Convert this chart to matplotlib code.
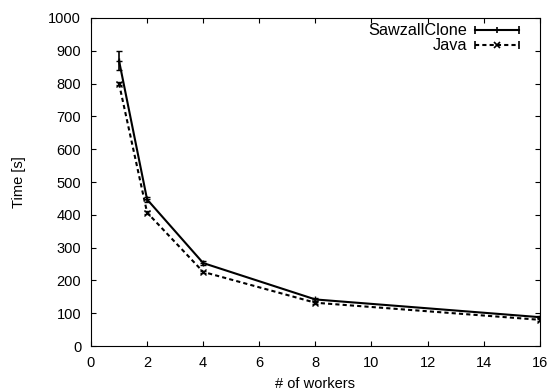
import numpy as np
import matplotlib
matplotlib.use("Agg")
import matplotlib.pyplot as plt
from matplotlib.lines import Line2D
from matplotlib.legend_handler import HandlerLine2D, HandlerTuple

plt.rcParams['font.family'] = ['Liberation Sans', 'DejaVu Sans']
plt.rcParams['font.size'] = 10.5

# data
workers = [1, 2, 4, 8, 16]
sawzall = [870, 447, 253, 142, 88]
sawzall_err = [30, 8, 5, 4, 4]
java = [800, 407, 226, 132, 80]
java_err = [5, 5, 4, 3, 3]

fig = plt.figure(figsize=(5.48, 3.91), dpi=100)
ax = fig.add_axes([0.166, 0.115, 0.819, 0.839])

dash = (0, (2, 1.5))
ax.errorbar(workers, sawzall, yerr=sawzall_err, color='black', lw=1.5,
            marker='+', ms=4, capsize=2.5, elinewidth=1.2)
ax.errorbar(workers, java, yerr=java_err, color='black', lw=1.5, ls=dash,
            marker='x', ms=4, capsize=2.5, elinewidth=1.2)

ax.set_xlim(0, 16)
ax.set_ylim(0, 1000)
ax.set_xticks(np.arange(0, 17, 2))
ax.set_yticks(np.arange(0, 1001, 100))
ax.tick_params(direction='in', top=True, right=True, length=3.5, pad=7)
ax.set_xlabel('# of workers', labelpad=5)
ax.set_ylabel('Time [s]', labelpad=16)

# gnuplot-style legend keys: line with end caps and point in the middle
s_caps = Line2D([], [], color='black', lw=1.5, marker='|', ms=6, mew=1.2)
s_mid = Line2D([], [], color='black', ls='none', marker='+', ms=4, mew=1.2)
j_caps = Line2D([], [], color='black', lw=1.5, ls=dash, marker='|', ms=6, mew=1.2)
j_mid = Line2D([], [], color='black', ls='none', marker='x', ms=4, mew=1.2)
hmap = {s_caps: HandlerLine2D(numpoints=2, marker_pad=0),
        j_caps: HandlerLine2D(numpoints=2, marker_pad=0),
        s_mid: HandlerLine2D(numpoints=1),
        j_mid: HandlerLine2D(numpoints=1),
        tuple: HandlerTuple(ndivide=1, pad=0)}
ax.legend([(s_caps, s_mid), (j_caps, j_mid)], ['SawzallClone', 'Java'],
          handler_map=hmap, loc='upper right', bbox_to_anchor=(0.953, 0.984),
          frameon=False, markerfirst=False, fontsize=11.7,
          handlelength=2.7, borderaxespad=0, borderpad=0,
          labelspacing=0.0, handletextpad=0.45)

fig.savefig('out.png', dpi=100)
